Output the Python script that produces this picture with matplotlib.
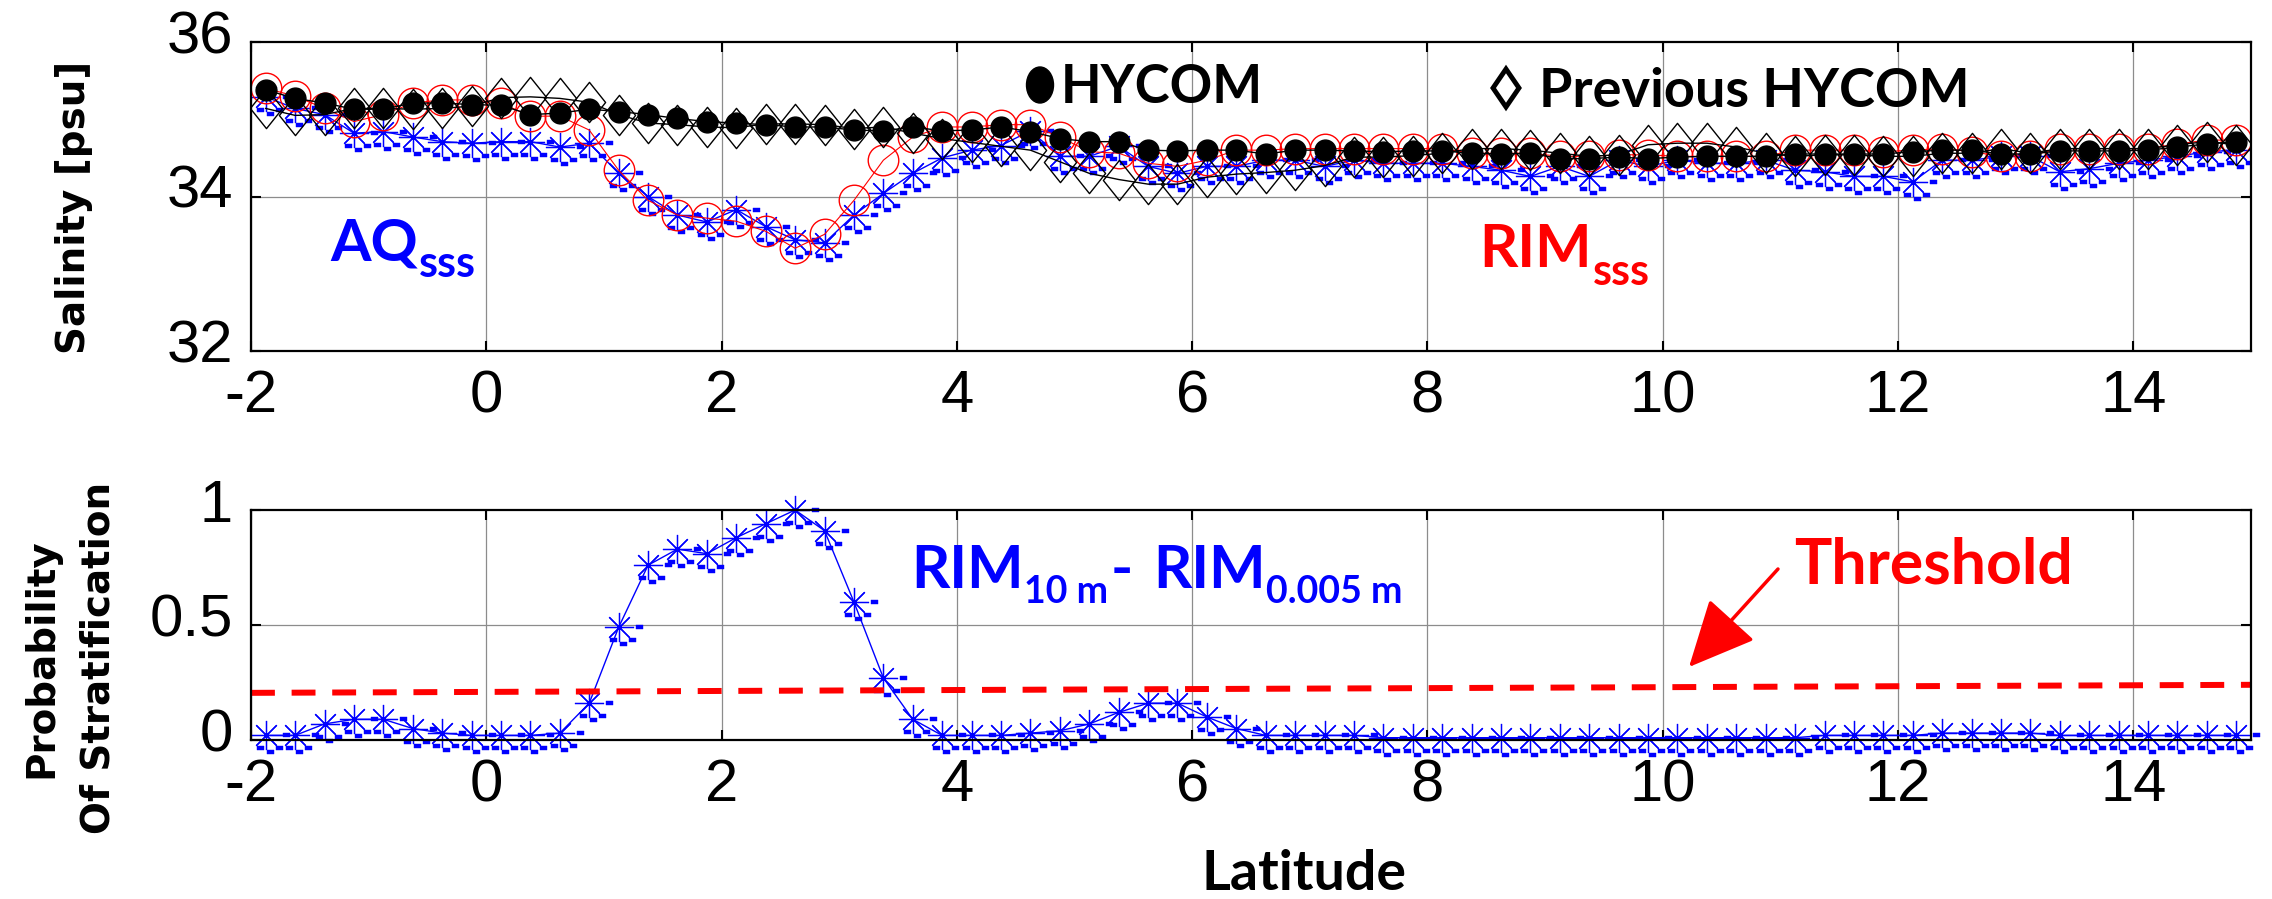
import numpy as np
import matplotlib
matplotlib.use("Agg")
import matplotlib.pyplot as plt
from matplotlib.path import Path
from matplotlib.patches import Ellipse, Polygon, FancyArrowPatch
from matplotlib.transforms import ScaledTranslation

W, H, DPI = 2272, 899, 100

# latitude of each sample (deg)
lat = [-1.875, -1.625, -1.375, -1.125, -0.875, -0.625, -0.375, -0.125, 0.125, 0.375,
       0.625, 0.875, 1.125, 1.375, 1.625, 1.875, 2.125, 2.375, 2.625, 2.875,
       3.125, 3.375, 3.625, 3.875, 4.125, 4.375, 4.625, 4.875, 5.125, 5.375,
       5.625, 5.875, 6.125, 6.375, 6.625, 6.875, 7.125, 7.375, 7.625, 7.875,
       8.125, 8.375, 8.625, 8.875, 9.125, 9.375, 9.625, 9.875, 10.125, 10.375,
       10.625, 10.875, 11.125, 11.375, 11.625, 11.875, 12.125, 12.375, 12.625, 12.875,
       13.125, 13.375, 13.625, 13.875, 14.125, 14.375, 14.625, 14.875]

hycom = [35.38, 35.27, 35.21, 35.13, 35.13, 35.21, 35.21, 35.19, 35.18, 35.06,
         35.08, 35.13, 35.10, 35.06, 35.01, 34.97, 34.95, 34.93, 34.90, 34.90,
         34.86, 34.85, 34.90, 34.85, 34.86, 34.90, 34.84, 34.75, 34.71, 34.71,
         34.60, 34.59, 34.60, 34.60, 34.55, 34.60, 34.60, 34.59, 34.58, 34.59,
         34.59, 34.56, 34.55, 34.56, 34.49, 34.49, 34.51, 34.49, 34.51, 34.52,
         34.52, 34.52, 34.55, 34.55, 34.55, 34.55, 34.58, 34.60, 34.60, 34.55,
         34.55, 34.59, 34.59, 34.59, 34.60, 34.64, 34.68, 34.71]

prev_hycom = [35.14, 35.05, 35.06, 35.14, 35.14, 35.13, 35.14, 35.17, 35.28, 35.29,
              35.27, 35.22, 35.06, 34.95, 34.93, 34.90, 34.89, 34.94, 34.94, 34.93,
              34.88, 34.90, 34.82, 34.75, 34.70, 34.65, 34.60, 34.45, 34.30, 34.22,
              34.16, 34.16, 34.25, 34.29, 34.31, 34.34, 34.40, 34.51, 34.51, 34.53,
              34.56, 34.62, 34.62, 34.60, 34.56, 34.52, 34.54, 34.67, 34.69, 34.69,
              34.64, 34.56, 34.52, 34.54, 34.54, 34.52, 34.52, 34.56, 34.56, 34.62,
              34.56, 34.62, 34.62, 34.62, 34.62, 34.67, 34.71, 34.67]

rim_sss = [35.40, 35.30, 35.14, 34.97, 35.06, 35.21, 35.25, 35.25, 35.21, 35.04,
           35.04, 34.86, 34.34, 33.95, 33.76, 33.72, 33.68, 33.55, 33.33, 33.51,
           33.95, 34.47, 34.77, 34.90, 34.90, 34.93, 34.93, 34.77, 34.58, 34.56,
           34.43, 34.39, 34.47, 34.60, 34.60, 34.62, 34.62, 34.62, 34.62, 34.62,
           34.62, 34.56, 34.56, 34.56, 34.52, 34.52, 34.54, 34.54, 34.52, 34.52,
           34.52, 34.52, 34.60, 34.60, 34.60, 34.58, 34.60, 34.62, 34.58, 34.52,
           34.53, 34.62, 34.62, 34.62, 34.62, 34.68, 34.73, 34.73]

aq_sss = [35.29, 35.14, 35.06, 34.82, 34.84, 34.77, 34.71, 34.69, 34.71, 34.71,
          34.64, 34.69, 34.30, 34.00, 33.76, 33.67, 33.83, 33.61, 33.44, 33.40,
          33.76, 34.04, 34.30, 34.50, 34.60, 34.66, 34.85, 34.52, 34.52, 34.65,
          34.39, 34.30, 34.39, 34.39, 34.47, 34.47, 34.39, 34.47, 34.43, 34.43,
          34.43, 34.39, 34.34, 34.26, 34.39, 34.26, 34.47, 34.39, 34.47, 34.43,
          34.43, 34.47, 34.34, 34.32, 34.26, 34.26, 34.19, 34.47, 34.47, 34.52,
          34.52, 34.32, 34.36, 34.43, 34.47, 34.52, 34.58, 34.60]

prob_strat = [0.02, 0.02, 0.07, 0.09, 0.09, 0.05, 0.03, 0.02, 0.02, 0.02,
              0.03, 0.16, 0.49, 0.76, 0.83, 0.81, 0.88, 0.94, 1.00, 0.91,
              0.60, 0.27, 0.09, 0.02, 0.02, 0.02, 0.03, 0.04, 0.07, 0.12,
              0.16, 0.16, 0.10, 0.05, 0.02, 0.02, 0.02, 0.02, 0.01, 0.01,
              0.01, 0.01, 0.01, 0.01, 0.01, 0.01, 0.01, 0.01, 0.01, 0.01,
              0.01, 0.01, 0.01, 0.02, 0.02, 0.02, 0.02, 0.03, 0.03, 0.03,
              0.03, 0.02, 0.02, 0.02, 0.02, 0.02, 0.02, 0.02]

thr_lat = [-2, 15]
thr_val = [0.205, 0.24]

xticks = [-2, 0, 2, 4, 6, 8, 10, 12, 14]
top_yticks = [32, 34, 36]
bot_yticks = [0, 0.5, 1]
bot_yticklabels = ["0", "0.5", "1"]

for s in (hycom, prev_hycom, rim_sss, aq_sss, prob_strat):
    assert len(s) == len(lat)

BLUE, RED = "#0000ff", "#ff0000"
TICKFONT = dict(family=["Liberation Sans", "DejaVu Sans"], size=43)
ANNFONT = ["Lato", "DejaVu Sans"]


def fx(px):
    return px / W


def fy(py):
    return 1 - py / H


def blue_bits():
    # small blue dashes that sit below every asterisk in the original
    centers = [(-5, -13), (4, -17), (13, -13), (20, 0)]
    verts, codes = [], []
    for cx, cy in centers:
        verts += [(cx - 3.5, cy - 1.8), (cx + 3.5, cy - 1.8), (cx + 3.5, cy + 1.8),
                  (cx - 3.5, cy + 1.8), (cx - 3.5, cy - 1.8)]
        codes += [Path.MOVETO, Path.LINETO, Path.LINETO, Path.LINETO, Path.CLOSEPOLY]
    return Path(verts, codes), 2 * 23.5 * 72 / DPI


tall_diamond = Path([(0, 1), (0.8, 0), (0, -1), (-0.8, 0), (0, 1)],
                    [Path.MOVETO, Path.LINETO, Path.LINETO, Path.LINETO, Path.CLOSEPOLY])
bits_path, bits_ms = blue_bits()

fig = plt.figure(figsize=(W / DPI, H / DPI), dpi=DPI)
ax1 = fig.add_axes([fx(251), fy(351), 2000 / W, 309 / H])
ax2 = fig.add_axes([fx(251), fy(740), 2000 / W, 230 / H])

label_shift = ScaledTranslation(0, 10 / DPI, fig.dpi_scale_trans)

for ax in (ax1, ax2):
    ax.set_xlim(-2, 15)
    ax.set_xticks(xticks)
    ax.set_xticklabels([str(t) for t in xticks], fontdict=TICKFONT)
    ax.set_axisbelow(True)
    ax.grid(axis="x", color="0.55", lw=0.9)
    ax.tick_params(direction="in", length=7, width=1.5, top=True, right=True,
                   pad=13, colors="black")
    for sp in ax.spines.values():
        sp.set_linewidth(1.6)

# ---- top panel: salinity ----
ax1.set_ylim(32, 36)
ax1.set_yticks(top_yticks)
ax1.set_yticklabels([str(t) for t in top_yticks], fontdict=TICKFONT)
ax1.axhline(34, color="0.55", lw=0.9, zorder=0.5)

ax1.plot(lat, aq_sss, ls="none", marker=bits_path, ms=bits_ms, mfc=BLUE, mec=BLUE,
         mew=0.3, zorder=2)
ax1.plot(lat, aq_sss, color=BLUE, lw=1.0, marker=(8, 2, 0), ms=21, mew=0.9, zorder=2.1)
ax1.plot(lat, rim_sss, color=RED, lw=0.8, marker="o", ms=22, mfc="none", mec=RED,
         mew=1.0, zorder=2.2)
ax1.plot(lat, prev_hycom, color="black", lw=1.0, marker=tall_diamond, ms=29,
         mfc="none", mec="black", mew=1.0, zorder=2.3)
ax1.plot(lat, hycom, color="black", lw=1.0, marker="o", ms=15, mfc="black",
         mec="black", zorder=2.4)

# ---- bottom panel: probability of stratification ----
ax2.set_ylim(0, 1)
ax2.set_yticks(bot_yticks)
ax2.set_yticklabels(bot_yticklabels, fontdict=TICKFONT)
ax2.axhline(0.5, color="0.55", lw=0.9, zorder=0.5)

ax2.plot(lat, prob_strat, ls="none", marker=bits_path, ms=bits_ms, mfc=BLUE, mec=BLUE,
         mew=0.3, zorder=2, clip_on=False)
ax2.plot(lat, prob_strat, color=BLUE, lw=1.0, marker=(8, 2, 0), ms=21, mew=0.9,
         zorder=2.1, clip_on=False)
ax2.plot(thr_lat, thr_val, color=RED, lw=4.3, dashes=(4.0, 2.8), zorder=2.2)

for ax in (ax1, ax2):
    for lab in ax.get_yticklabels():
        lab.set_transform(lab.get_transform() + label_shift)

# ---- axis titles ----
fig.text(fx(74), fy(207), "Salinity [psu]", rotation=90, ha="center", va="center",
         family="DejaVu Sans", weight="bold", size=28)
fig.text(fx(70), fy(658), "Probability\nOf Stratification", rotation=90, ha="center",
         va="center", multialignment="center", linespacing=1.65,
         family="DejaVu Sans", weight="bold", size=28)
fig.text(fx(1202), fy(890), "Latitude", ha="left", va="baseline",
         family=ANNFONT, weight="bold", size=40)

# ---- annotations ----
renderer = fig.canvas.get_renderer()


def words(px, pieces, color="black"):
    # pieces: (text, size, baseline_px, gap_after_px), laid out left to right
    x = px
    for s, size, base, gap in pieces:
        t = fig.text(fx(x), fy(base), s, ha="left", va="baseline", family=ANNFONT,
                     weight="bold", size=size, color=color)
        x = t.get_window_extent(renderer).x1 + gap


fig.add_artist(Ellipse((fx(1040), fy(85)), 27 / W, 36 / H, color="black",
                       transform=fig.transFigure))
words(1061, [("HYCOM", 38, 103, 0)])
fig.add_artist(Polygon([(fx(1506), fy(69)), (fx(1519), fy(88)), (fx(1506), fy(107)),
                        (fx(1493), fy(88))], closed=True, fill=False, lw=3.5,
                       ec="black", transform=fig.transFigure))
words(1539, [("Previous HYCOM", 39, 107, 0)])

words(330, [("AQ", 42, 260, 1), ("sss", 31, 277, 0)], BLUE)
words(1479, [("RIM", 43, 267, 1), ("sss", 31, 285, 0)], RED)

words(911, [("RIM", 43, 588, 1), ("10 m", 27, 603, 2), ("-", 43, 588, 20),
            ("RIM", 43, 588, 1), ("0.005 m", 27, 603, 0)], BLUE)

words(1794, [("Threshold", 45, 583, 0)], RED)
fig.add_artist(FancyArrowPatch((fx(1778), fy(569)), (fx(1689), fy(667)),
                               transform=fig.transFigure, color=RED, lw=2.5,
                               arrowstyle="-|>,head_length=1.6,head_width=0.75",
                               mutation_scale=26, shrinkA=0, shrinkB=0))

fig.savefig("out.png", dpi=DPI)
